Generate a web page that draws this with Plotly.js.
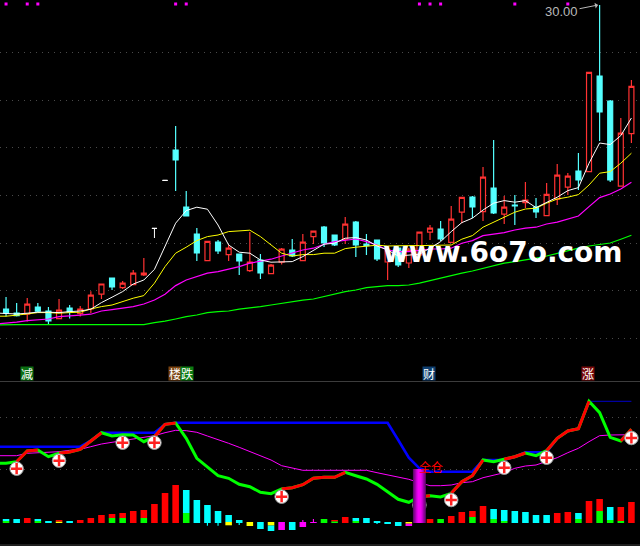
<!DOCTYPE html>
<html><head><meta charset="utf-8">
<script src="https://cdn.plot.ly/plotly-3.0.1.min.js"></script>
<style>html,body{margin:0;padding:0;background:#000;overflow:hidden}</style></head>
<body><div id="chart" style="width:640px;height:546px"></div>
<script>
// ---- candles: [high, bodyTop, bodyBottom, low]
const candleHigh=[15.4,15.1,15.35,15.1,14.9,15.3,15,14.95,15.69,16.05,16.35,16.2,16.75,17.35,null,null,23.95,20.7,18.85,18.18,18.25,18,17.55,18.65,17.55,17.05,17.85,18.3,18.55,18.69,18.95,18.5,19.4,19.2,18.55,18.25,17.9,17.95,17.85,18.65,19,19.2,19.95,20.38,20.45,21.9,23.25,20.45,20.5,21.15,20.35,21.1,22.05,21.6,22.6,26.63,30,25.25,24.35,26.25];
const bodyTop=[14.8,14.6,15.04,14.9,14.7,14.74,14.85,14.79,15.49,16.05,16.35,16.09,16.59,16.6,null,null,22.75,19.9,18.55,18.18,18.15,17.84,17.55,17.14,17.25,16.99,17.79,17.75,18.14,18.69,18.9,18.5,19.04,19.15,18.05,18.25,17.75,17.85,17.75,18.64,18.84,18.8,19.29,20.38,20.4,21.39,20.85,19.89,20,20.24,19.9,20.53,21.49,21.44,21.7,26.63,26.45,25.2,23.59,25.93];
const bodyBottom=[14.59,14.47,14.54,14.69,14.2,14.32,14.65,14.57,14.8,15.54,15.9,15.87,16.02,16.5,null,null,22.25,19.45,17.6,17.22,17.7,17.52,17.2,16.72,16.6,16.57,17.14,17.45,17.22,18.42,18.1,18,18.29,18,17.97,17.3,17.15,17,17.1,17.5,18.64,18.3,18.13,19.64,19.9,19.67,19.6,19.54,19.95,20.12,19.65,19.47,20.29,20.89,21.25,21.67,24.65,21.25,20.94,23.57];
const candleLow=[14.42,14.42,14.17,14.65,14.05,14.32,14.32,14.42,14.6,15.3,15.75,15.8,16.02,16.45,null,null,20.7,19.45,17.2,17.22,17.55,17.2,16.5,16.65,16.3,16.57,17.02,17.4,17.22,18.05,17.9,17.95,18.05,17.4,17.5,17.2,16.25,16.9,16.85,17.35,18.25,18.2,18.13,19.09,19.35,19.2,19.55,19.05,19,19.85,19.35,19.47,20,20.5,20.75,21.67,23.2,21.15,20.94,23.1];
const risingDays=[2,5,7,8,9,11,12,13,19,21,23,25,26,28,29,32,36,38,39,40,42,43,45,47,49,51,52,53,55,58,59];
const whiteDays=[14,15], whiteHigh=[18.83,21.23], whiteLow=[18.35,21.23];
// ---- moving averages, first value is the day before the window
const ma5=[14.6,14.59,14.55,14.59,14.64,14.64,14.62,14.67,14.7,14.79,15.12,15.39,15.67,16.05,16.25,16.78,17.92,19.09,19.72,19.89,19.79,19,18,17.64,17.59,17.25,17.14,17.14,17.17,17.42,17.75,18.04,18.09,18.34,18.37,18.25,17.95,17.75,17.45,17.5,17.54,17.84,18.17,18.67,19.12,19.34,19.75,20.09,20.22,20.14,20.22,19.87,20.14,20.39,20.72,20.87,22.09,23.1,23.02,23.47,24.35];
const ma10=[14.44,14.44,14.49,14.54,14.62,14.62,14.59,14.62,14.64,14.8,14.92,15,15.17,15.34,15.47,16.09,16.92,17.59,17.89,18.22,18.42,18.5,18.67,18.7,18.74,18.42,18,17.59,17.45,17.52,17.52,17.59,17.59,17.82,17.89,17.95,17.99,17.95,17.97,17.97,17.97,17.97,17.97,18,18.29,18.47,18.89,19.14,19.37,19.64,19.8,19.84,20.09,20.3,20.39,20.52,21,21.59,21.67,22.09,22.59];
const ma20=[14.05,14.09,14.14,14.22,14.25,14.3,14.42,14.44,14.49,14.54,14.7,14.77,14.84,14.92,15.05,15.25,15.54,15.97,16.25,16.42,16.59,16.67,16.8,16.92,17.09,17.2,17.29,17.45,17.59,17.75,17.84,18.04,18.17,18.25,18.3,18.17,18,17.75,17.67,17.67,17.72,17.8,17.8,17.84,18.09,18.22,18.47,18.55,18.62,18.75,18.84,18.89,19.05,19.14,19.3,19.45,19.92,20.37,20.55,20.8,21.14];
const ma60=[14,14.02,14.02,14.02,14.02,14.02,14.02,14.02,14.02,14.02,14.02,14.02,14.02,14.02,14.02,14.12,14.19,14.3,14.42,14.5,14.62,14.67,14.7,14.79,14.84,14.92,15,15.09,15.17,15.24,15.3,15.42,15.55,15.67,15.75,15.87,15.92,15.97,15.97,16,16.09,16.22,16.34,16.45,16.59,16.7,16.84,16.97,17.09,17.17,17.25,17.34,17.45,17.59,17.72,17.84,17.95,18.04,18.1,18.29,18.49];
const priceGrid=[27.63,25.25,22.87,20.49,18.1,15.72,13.35];
const markDays=[0,2,3,16,17,39,40,41,48,53];
// ---- lower indicator
const mainLine=[59.7,59.7,61.3,72,73,66.3,69.7,71,73.7,82.3,90.3,87,88.3,88,81.3,86.3,98.7,100,84.7,64.7,55.7,47.3,44.7,38.7,36.3,30.7,29.3,34,35.3,38.3,44.7,45.7,45.7,50.7,47.3,44,38.7,31.3,23.7,20.7,26.3,27.3,26,29.7,41.3,47.3,63,61.3,63.7,66.3,70,67.3,72.3,84.7,92,94.3,121.7,110.3,85.7,82,93.7];
const upRanges=[[1,3],[5,9],[14,16],[26,32],[39,40],[42,45],[47,49],[51,55],[58,59]];
const signalLine=[67.3,67.3,67.3,69.7,70.3,70.7,71.3,72.7,73.7,76.3,79,80.7,82.3,83.7,85.3,87.3,90.3,92.7,92.3,90.7,87,83.7,79.7,75.7,71.3,67,63,57.3,55,52.7,52.7,52.7,52,52.7,52.7,52.7,50.3,48,45.7,43.7,40.3,37.3,37.3,38,40.3,41.3,45.3,48,50.3,54.7,57,58,61.3,65.3,70.3,74.7,81.3,87.3,88,88.3,88.3];
const stopLine=[76.3,76.3,76.3,76.3,76.3,76.3,76.3,76.3,76.3,82.3,90.3,90.3,90.3,90.3,90.3,90.3,98.7,100.3,100.3,100.3,100.3,100.3,100.3,100.3,100.3,100.3,100.3,100.3,100.3,100.3,100.3,100.3,100.3,100.3,100.3,100.3,100.3,100.3,83,65.3,54.7,51.3,51.3,51.3,51.3,51.3,63,63,63,66.3,70.7,70.7,70.7,84.7,92,94.3];
const stopTailDays=[55,56,57,58,59], stopTail=[121.7,121.7,121.7,121.7,121.7];
const lowerGrid=[105.7,53.7];
const redX=[2,5,7,8,9,10,11,12,13,14,15,16,31,32,40,42,43,44,45,52,53,55,56,58,59];
const redBase=[0,1.3,0,0,0,5,5,0,5,0,0,0,1.7,0,0,0,0,6,0,0,0,0,12,2,0];
const redH=[5,1.7,3,5,8,4,5,12,8,19,30,38,1.3,6,4,7,11,6,17,10,11,22,12,14,21];
const greenX=[0,3,10,11,13,17,30,31,33,41,44,46,47,54,56,57,58];
const greenBase=[0,0,0,0,0,0,0,0,0,0,0,0,0,0,0,0,0];
const greenH=[2,2,5,5,5,10,4,1.7,2,4,6,4,2,4,12,3,2];
const cyanX=[0,1,3,4,6,17,18,19,20,21,22,24,25,27,33,34,35,36,37,46,47,48,49,50,51,54,57];
const cyanBase=[2,0,2,0,0,10,0,0,0,1,0,-6,-8,-7,2,0,0,-1,-3,4,2,0,0,0,0,4,3];
const cyanH=[2,4,2,2,2,23,23,18,12,7,3,7,5.7,8,3,5,2,2,4,10,11,12,11,8,8,6,13];
const yellowX=[5,21,23,25,38], yellowBase=[0,-2.3,-3,-2.3,-0.7], yellowH=[1.3,3.3,4,3.3,1.7];
const magentaX=[26,28,29,38], magentaBase=[-7,-4,0,-3], magentaH=[8,5,1,2.3];
const tickX=[19,20,22,35,28,29], tickBase=[-2.7,-2.7,-2,-1,1,1], tickH=[2.7,2.7,2,1,2,3];
const tickColors=['#00ffff','#00ffff','#00ffff','#00ffff','#ff00ff','#ff00ff'];
const bigDay=39, bigValue=54;
const plusDays=[1,5,11,14,26,39,42,47,51,59], plusValues=[54.3,62.3,80.3,80.3,26.3,18,23,55.3,65.3,85];

const RED='#ff3232', CYAN='#54ffff';
const days=bodyTop.map((_,i)=>i);
const lineDays=[-1].concat(days);
const isUp=i=>risingDays.includes(i);
const openP=days.map(i=>bodyTop[i]===null?null:(isUp(i)?bodyBottom[i]:bodyTop[i]));
const closeP=days.map(i=>bodyTop[i]===null?null:(isUp(i)?bodyTop[i]:bodyBottom[i]));
const traces=[];
const side=c=>({line:{color:c,width:1},fillcolor:c});
traces.push({type:'candlestick',x:days,open:openP,high:candleHigh,low:candleLow,close:closeP,
  increasing:{line:{color:RED,width:1.2},fillcolor:'#000'},decreasing:{line:{color:CYAN,width:1.2},fillcolor:CYAN},whiskerwidth:0,hoverinfo:'skip'});
traces.push({type:'candlestick',x:whiteDays,open:whiteHigh,high:whiteHigh,low:whiteLow,close:whiteHigh,
  increasing:side('#ffffff'),decreasing:side('#ffffff'),whiskerwidth:0,hoverinfo:'skip'});
[[ma60,'#00ff00',1.2],[ma20,'#ff00ff',1.2],[ma10,'#ffff00',1],[ma5,'#ffffff',1]].forEach(([v,c,w])=>
  traces.push({type:'scatter',mode:'lines',x:lineDays,y:v,line:{color:c,width:w},hoverinfo:'skip'}));
traces.push({type:'scatter',mode:'markers',x:markDays,y:markDays.map(()=>30.05),marker:{symbol:'square',size:3,color:'#ff00ff'},hoverinfo:'skip'});

function bars(x,base,h,color,width){
  traces.push({type:'bar',x:x,base:base,y:h,width:width,marker:{color:color,line:{width:0}},yaxis:'y2',hoverinfo:'skip'});
}
bars(greenX,greenBase,greenH,'#00ff00',0.62);
bars(redX,redBase,redH,'#ff0000',0.62);
bars(cyanX,cyanBase,cyanH,'#00ffff',0.62);
bars(yellowX,yellowBase,yellowH,'#ffff00',0.62);
bars(magentaX,magentaBase,magentaH,'#ff00ff',0.62);
bars(tickX,tickBase,tickH,tickColors,0.11);

const y2={yaxis:'y2',type:'scatter',mode:'lines',hoverinfo:'skip'};
traces.push(Object.assign({},y2,{x:lineDays,y:signalLine,line:{color:'#ff00ff',width:1}}));
traces.push(Object.assign({},y2,{x:lineDays.slice(0,stopLine.length),y:stopLine,line:{color:'#0000ff',width:2.6}}));
traces.push(Object.assign({},y2,{x:stopTailDays,y:stopTail,line:{color:'#0000c8',width:1}}));
traces.push(Object.assign({},y2,{x:lineDays,y:mainLine,line:{color:'#00ff00',width:3}}));
upRanges.forEach(([a,b])=>{
  const xs=[],ys=[];
  for(let i=a;i<=b;i++){xs.push(i);ys.push(mainLine[i+1]);}
  traces.push(Object.assign({},y2,{x:xs,y:ys,line:{color:'#ff0000',width:3}}));
});
traces.push({yaxis:'y2',type:'scatter',mode:'markers',x:plusDays,y:plusValues,marker:{symbol:'circle',size:13.5,color:'#ffffff',line:{color:'#9a9a9a',width:1}},hoverinfo:'skip'});
traces.push({yaxis:'y2',type:'scatter',mode:'markers',x:plusDays,y:plusValues,marker:{symbol:'cross-thin',size:8,color:'#ff2020',line:{color:'#ff2020',width:2.5}},hoverinfo:'skip'});
[[13,'#5f0a6a'],[11,'#85058f'],[9,'#a300ad'],[7,'#c600cf'],[5,'#e000e6'],[3,'#f500f5']].forEach(([w,c],k)=>
  traces.push({yaxis:'y2',type:'scatter',mode:'lines',x:[bigDay,bigDay],y:[0,bigValue],line:{color:c,width:w},hoverinfo:'skip'}));

const lab=(x,text,bg)=>({xref:'x',yref:'paper',x:x,y:1-373/546,xanchor:'center',yanchor:'middle',width:12,height:13,text:text,showarrow:false,bgcolor:bg,borderpad:0,
  font:{family:'Noto Sans CJK SC',size:12,color:'#ffffff'}});
const layout={
  width:640,height:546,margin:{l:0,r:0,t:0,b:0},autosize:false,paper_bgcolor:'#000',plot_bgcolor:'#000',
  showlegend:false,barmode:'overlay',boxgap:0.33,
  xaxis:{range:[-0.57,59.81],showgrid:false,zeroline:false,showticklabels:false,ticks:'',rangeslider:{visible:false},fixedrange:true},
  yaxis:{domain:[1-360/546,1],range:[12.25,30.25],tickmode:'array',tickvals:priceGrid,showticklabels:false,ticks:'',zeroline:false,
    showgrid:true,gridcolor:'#4a4a4a',griddash:'1px,5px',gridwidth:1,fixedrange:true},
  yaxis2:{domain:[0,1-382/546],range:[-23,141],tickmode:'array',tickvals:lowerGrid,showticklabels:false,ticks:'',zeroline:false,
    showgrid:true,gridcolor:'#4a4a4a',griddash:'1px,5px',gridwidth:1,fixedrange:true},
  shapes:[1-381.5/546,1-545/546].map(y=>({type:'line',xref:'paper',yref:'paper',x0:0,x1:1,y0:y,y1:y,line:{color:'#3c3c3c',width:1}})),
  annotations:[
    lab(1.98,'减','#0b6e12'),lab(15.95,'楼','#7a4310'),lab(17.05,'跌','#0b7a12'),lab(39.9,'财','#0f3f70'),lab(54.9,'涨','#7a0a0a'),
    {xref:'x',yref:'y',x:52.4,y:29.7,text:'30.00',showarrow:false,font:{family:'Liberation Sans',size:13,color:'#b8b8b8'}},
    {xref:'x',yref:'y',axref:'pixel',ayref:'pixel',x:55.85,y:30,ax:-20,ay:4,text:'',showarrow:true,arrowhead:1,arrowsize:1,arrowwidth:1,arrowcolor:'#b8b8b8'},
    {xref:'x',yref:'y2',x:40.1,y:57,text:'全仓',showarrow:false,font:{family:'Noto Sans CJK SC',size:12,color:'#ff0000'}},
    {xref:'x',yref:'y',x:46.9,y:17.65,text:'www.6o7o.com',showarrow:false,font:{family:'DejaVu Sans',size:28,color:'#ffffff',weight:700}}
  ]
};
Plotly.newPlot('chart',traces,layout,{displayModeBar:false,staticPlot:true});
</script></body></html>
